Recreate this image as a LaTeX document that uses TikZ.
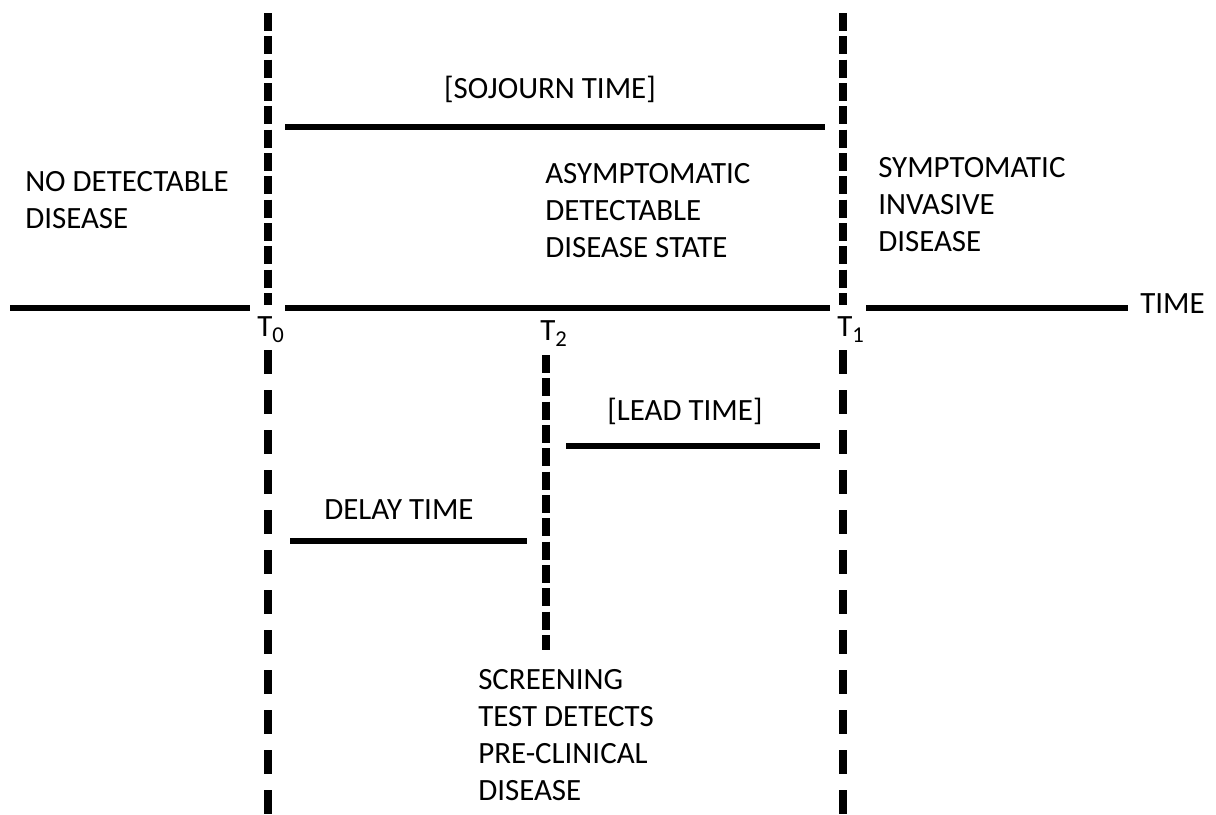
\documentclass[tikz,border=0pt]{standalone}
\usepackage{fontspec}
\setmainfont{Carlito}
\newcommand{\lowsub}[1]{\raisebox{-5pt}{\fontsize{17}{17}\selectfont #1}}
\begin{document}
\begin{tikzpicture}[x=0.75pt,y=-0.75pt,
  lbl/.style={inner sep=0pt,font=\fontsize{23.2}{27.6}\selectfont,align=left},
  bar/.style={line width=5.2pt},
  vshort/.style={line width=6pt,dash pattern=on 13.5pt off 4pt},
  vlong/.style={line width=6pt,dash pattern=on 18pt off 12pt}]
\useasboundingbox (0,0) rectangle (1216,814);
% coordinates
\coordinate (t0top) at (267.5,13);
\coordinate (t0mid) at (267.5,305);
\coordinate (t0low) at (267.5,350);
\coordinate (t0bot) at (267.5,814);
\coordinate (t1top) at (843,13);
\coordinate (t1mid) at (843,305);
\coordinate (t1low) at (843,350);
\coordinate (t1bot) at (843,814);
\coordinate (t2top) at (546,355);
\coordinate (t2bot) at (546,650);
\coordinate (ax1) at (10,308);
\coordinate (ax2) at (250,308);
\coordinate (ax3) at (285,308);
\coordinate (ax4) at (830,308);
\coordinate (ax5) at (866,308);
\coordinate (ax6) at (1128,308);
\coordinate (sj1) at (285,127);
\coordinate (sj2) at (825,127);
\coordinate (ld1) at (566,446);
\coordinate (ld2) at (820,446);
\coordinate (dl1) at (290,541);
\coordinate (dl2) at (527,541);
% vertical dashed lines
\draw[vshort] (t0top) -- (t0mid);
\draw[vlong] (t0low) -- (t0bot);
\draw[vshort] (t1top) -- (t1mid);
\draw[vlong] (t1low) -- (t1bot);
\draw[vshort] (t2top) -- (t2bot);
% horizontal bars
\draw[bar] (ax1) -- (ax2);
\draw[bar] (ax3) -- (ax4);
\draw[bar] (ax5) -- (ax6);
\draw[bar] (sj1) -- (sj2);
\draw[bar] (ld1) -- (ld2);
\draw[bar] (dl1) -- (dl2);
% labels (base anchor of a multi-line node = baseline of its last line)
\node[lbl,anchor=base] (sojourn) at (550,98) {[SOJOURN TIME]};
\node[lbl,anchor=base west] (nodis) at (25,228) {NO DETECTABLE\\DISEASE};
\node[lbl,anchor=base west] (asym) at (545,257) {ASYMPTOMATIC\\DETECTABLE\\DISEASE STATE};
\node[lbl,anchor=base west] (sympt) at (878,251) {SYMPTOMATIC\\INVASIVE\\DISEASE};
\node[lbl,anchor=base west] (time) at (1140,313) {TIME};
\node[lbl,anchor=base west] (T0) at (257,336) {T\lowsub{0}};
\node[lbl,anchor=base west] (T2) at (540,340) {T\lowsub{2}};
\node[lbl,anchor=base west] (T1) at (837,336) {T\lowsub{1}};
\node[lbl,anchor=base] (lead) at (685,420) {[LEAD TIME]};
\node[lbl,anchor=base] (delay) at (399,519) {DELAY TIME};
\node[lbl,anchor=base west] (screen) at (478,800) {SCREENING\\TEST DETECTS\\PRE-CLINICAL\\DISEASE};
\end{tikzpicture}
\end{document}
